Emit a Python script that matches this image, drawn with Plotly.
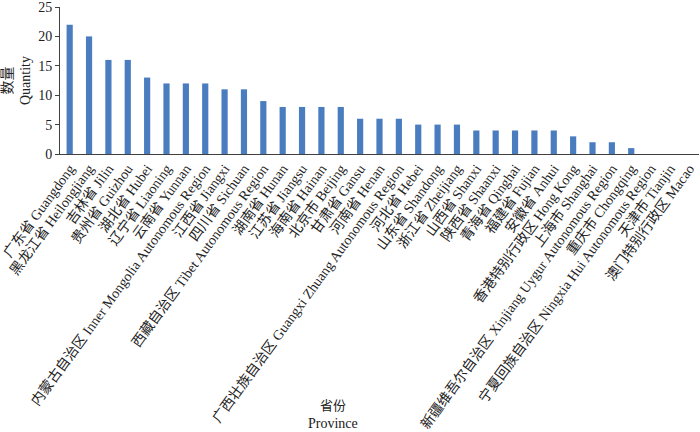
import plotly.graph_objects as go

provinces = [
    "广东省 Guangdong", "黑龙江省 Heilongjiang", "吉林省 Jilin", "贵州省 Guizhou",
    "湖北省 Hubei", "辽宁省 Liaoning", "云南省 Yunnan",
    "内蒙古自治区 Inner Mongolia Autonomous Region", "江西省 Jiangxi", "四川省 Sichuan",
    "西藏自治区 Tibet Autonomous Region", "湖南省 Hunan", "江苏省 Jiangsu", "海南省 Hainan",
    "北京市 Beijing", "甘肃省 Gansu", "河南省 Henan",
    "广西壮族自治区 Guangxi Zhuang Autonomous Region", "河北省 Hebei", "山东省 Shandong",
    "浙江省 Zheijiang", "山西省 Shanxi", "陕西省 Shaanxi", "青海省 Qinghai", "福建省 Fujian",
    "安徽省 Anhui", "香港特别行政区 Hong Kong", "上海市 Shanghai",
    "新疆维吾尔自治区 Xinjiang Uygur Autonomous Region", "重庆市 Chongqing",
    "宁夏回族自治区 Ningxia Hui Autonomous Region", "天津市 Tianjin", "澳门特别行政区 Macao",
]
quantity = [22, 20, 16, 16, 13, 12, 12, 12, 11, 11, 9, 8, 8, 8, 8, 6, 6, 6, 5, 5, 5,
            4, 4, 4, 4, 4, 3, 2, 2, 1, 0, 0, 0]
y_ticks = [0, 5, 10, 15, 20, 25]

FONT = "Liberation Serif, Times New Roman, Noto Sans CJK SC, serif"

fig = go.Figure(go.Bar(x=provinces, y=quantity, marker=dict(color="#4A7DC0", line=dict(width=0)),
                       width=0.32))

fig.update_layout(
    width=700, height=432,
    margin=dict(l=60, r=1, t=7, b=278, autoexpand=False),
    plot_bgcolor="white", paper_bgcolor="white",
    font=dict(family=FONT, color="#222222"),
    showlegend=False,
    xaxis=dict(
        tickangle=-54, tickfont=dict(size=14, family=FONT),
        showline=True, linecolor="#404040", linewidth=1,
        ticks="", showgrid=False, automargin=False, ticklabeloverflow="allow",
    ),
    yaxis=dict(
        range=[0, 25], tickvals=y_ticks, tickfont=dict(size=14, family=FONT),
        showline=True, linecolor="#404040", linewidth=1,
        ticks="outside", ticklen=4, tickcolor="#404040",
        showgrid=False, zeroline=False, automargin=False, ticklabeloverflow="allow",
        title=dict(text="数量<br>Quantity", font=dict(size=14, family=FONT), standoff=8),
    ),
    annotations=[
        dict(text="省份", xref="paper", yref="paper", x=0.427, y=(154 - 405) / 147,
             showarrow=False, font=dict(size=13, family=FONT), xanchor="center", yanchor="middle"),
        dict(text="Province", xref="paper", yref="paper", x=0.427, y=(154 - 423) / 147,
             showarrow=False, font=dict(size=14, family=FONT), xanchor="center", yanchor="middle"),
    ],
)

fig.write_html("out.html", config={"displayModeBar": False},
               post_script="document.body.style.margin='0';document.body.style.overflow='hidden';")
